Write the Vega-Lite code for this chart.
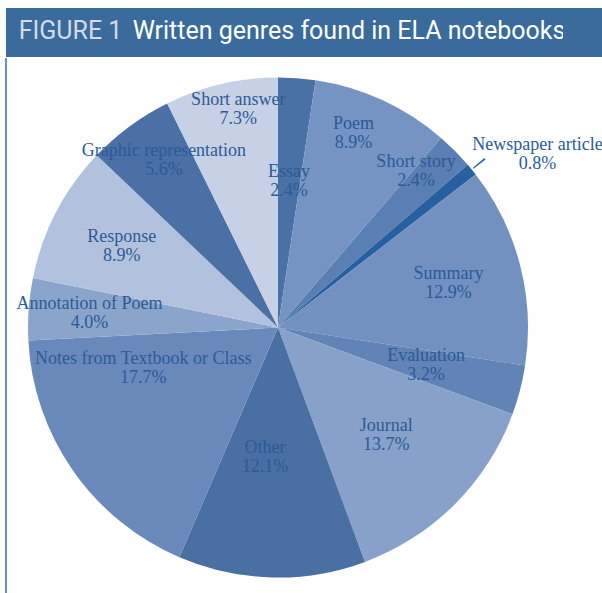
{
  "$schema": "https://vega.github.io/schema/vega-lite/v6.json",
  "padding": {"left": 5, "top": 8, "right": 0, "bottom": 0},
  "background": "white",
  "spacing": 0,
  "config": {"view": {"stroke": null}},
  "vconcat": [
    {
      "hconcat": [
        {
          "width": 129,
          "height": 49,
          "view": {"fill": "#3b6a9c", "stroke": null},
          "data": {"values": [{}]},
          "mark": {"type": "text", "text": "FIGURE 1", "font": "Roboto", "fontSize": 25, "fill": "#d3dbe8", "baseline": "middle", "align": "center", "dy": -2}
        },
        {
          "width": 428,
          "height": 49,
          "view": {"fill": "#3b6a9c", "stroke": null},
          "data": {"values": [{}]},
          "mark": {"type": "text", "text": "Written genres found in ELA notebooks", "font": "Roboto", "fontSize": 25, "fill": "#ffffff", "baseline": "middle", "align": "center", "dy": -2}
        },
        {
          "width": 40,
          "height": 49,
          "view": {"fill": "#3b6a9c", "stroke": null},
          "data": {"values": [{}]},
          "mark": {"type": "text", "text": ""}
        }
      ],
      "spacing": 0,
      "bounds": "flush"
    },
    {
      "width": 544,
      "height": 539,
      "view": {"stroke": "#6d90c0", "strokeWidth": 2, "strokeDash": [0, 1627, 539, 20]},
      "data": {
        "values": [
          {"genre": "Essay", "pct": 2.4, "order": 1},
          {"genre": "Poem", "pct": 8.9, "order": 2},
          {"genre": "Short story", "pct": 2.4, "order": 3},
          {"genre": "Newspaper article", "pct": 0.8, "order": 4},
          {"genre": "Summary", "pct": 12.9, "order": 5},
          {"genre": "Evaluation", "pct": 3.2, "order": 6},
          {"genre": "Journal", "pct": 13.7, "order": 7},
          {"genre": "Other", "pct": 12.1, "order": 8},
          {"genre": "Notes from Textbook or Class", "pct": 17.7, "order": 9},
          {"genre": "Annotation of Poem", "pct": 4.0, "order": 10},
          {"genre": "Response", "pct": 8.9, "order": 11},
          {"genre": "Graphic representation", "pct": 5.6, "order": 12},
          {"genre": "Short answer", "pct": 7.3, "order": 13}
        ]
      },
      "transform": [
        {"calculate": "datum.genre + '\\n' + format(datum.pct, '.1f') + '%'", "as": "label"},
        {"stack": "pct", "groupby": [], "sort": [{"field": "order", "order": "ascending"}], "as": ["cum0", "cum1"]}
      ],
      "encoding": {
        "theta": {"field": "pct", "type": "quantitative", "stack": true},
        "order": {"field": "order", "type": "quantitative"}
      },
      "layer": [
        {
          "mark": {"type": "arc", "radius": 250},
          "encoding": {
            "color": {
              "field": "genre",
              "type": "nominal",
              "scale": {
                "domain": ["Essay", "Poem", "Short story", "Newspaper article", "Summary", "Evaluation", "Journal", "Other", "Notes from Textbook or Class", "Annotation of Poem", "Response", "Graphic representation", "Short answer"],
                "range": ["#4a71a6", "#7694c3", "#5a7fb2", "#2660a0", "#7391c0", "#6183b5", "#88a1ca", "#496fa3", "#6a89bb", "#8ba4cb", "#b2c2de", "#4a70a5", "#c6d1e6"]
              },
              "legend": null
            }
          }
        },
        {
          "mark": {"type": "arc", "radius": 267, "radius2": 252, "padAngle": 0.031, "fill": "#3d6aa0"},
          "encoding": {
            "opacity": {"condition": {"test": "datum.genre === 'Newspaper article'", "value": 1}, "value": 0}
          }
        },
        {
          "mark": {"type": "text", "radius": 146, "dy": -9.5, "font": "Liberation Serif", "fontSize": 18, "lineBreak": "\n", "lineHeight": 19, "fill": "#2c5b95", "baseline": "middle"},
          "encoding": {
            "text": {"condition": {"test": "datum.genre === 'Essay'", "field": "label"}, "value": ""}
          }
        },
        {
          "mark": {"type": "text", "radius": 153, "dy": -9.5, "font": "Liberation Serif", "fontSize": 18, "lineBreak": "\n", "lineHeight": 19, "fill": "#2c5b95", "baseline": "middle"},
          "encoding": {
            "text": {"condition": {"test": "indexof(['Evaluation','Journal'], datum.genre) >= 0", "field": "label"}, "value": ""}
          }
        },
        {
          "mark": {"type": "text", "radius": 131, "thetaOffset": 0.075, "dy": -9.5, "font": "Liberation Serif", "fontSize": 18, "lineBreak": "\n", "lineHeight": 19, "fill": "#2c5b95", "baseline": "middle"},
          "encoding": {
            "text": {"condition": {"test": "datum.genre === 'Other'", "field": "label"}, "value": ""}
          }
        },
        {
          "mark": {"type": "text", "radius": 141, "thetaOffset": 0.31, "dy": -9.5, "font": "Liberation Serif", "fontSize": 18, "lineBreak": "\n", "lineHeight": 19, "fill": "#2c5b95", "baseline": "middle"},
          "encoding": {
            "text": {"condition": {"test": "datum.genre === 'Notes from Textbook or Class'", "field": "label"}, "value": ""}
          }
        },
        {
          "mark": {"type": "text", "radius": 176, "dy": -9.5, "font": "Liberation Serif", "fontSize": 18, "lineBreak": "\n", "lineHeight": 19, "fill": "#2c5b95", "baseline": "middle"},
          "encoding": {
            "text": {"condition": {"test": "indexof(['Summary','Response'], datum.genre) >= 0", "field": "label"}, "value": ""}
          }
        },
        {
          "mark": {"type": "text", "radius": 189, "dy": -9.5, "font": "Liberation Serif", "fontSize": 18, "lineBreak": "\n", "lineHeight": 19, "fill": "#2c5b95", "baseline": "middle"},
          "encoding": {
            "text": {"condition": {"test": "datum.genre === 'Annotation of Poem'", "field": "label"}, "value": ""}
          }
        },
        {
          "mark": {"type": "text", "radius": 208, "thetaOffset": -0.06, "dy": -9.5, "font": "Liberation Serif", "fontSize": 18, "lineBreak": "\n", "lineHeight": 19, "fill": "#2c5b95", "baseline": "middle"},
          "encoding": {
            "text": {"condition": {"test": "indexof(['Poem','Short story'], datum.genre) >= 0", "field": "label"}, "value": ""}
          }
        },
        {
          "mark": {"type": "text", "radius": 202, "thetaOffset": 0.035, "dy": -9.5, "font": "Liberation Serif", "fontSize": 18, "lineBreak": "\n", "lineHeight": 19, "fill": "#2c5b95", "baseline": "middle"},
          "encoding": {
            "text": {"condition": {"test": "datum.genre === 'Graphic representation'", "field": "label"}, "value": ""}
          }
        },
        {
          "mark": {"type": "text", "radius": 222, "thetaOffset": 0.05, "dy": -9.5, "font": "Liberation Serif", "fontSize": 18, "lineBreak": "\n", "lineHeight": 19, "fill": "#2c5b95", "baseline": "middle"},
          "encoding": {
            "text": {"condition": {"test": "datum.genre === 'Short answer'", "field": "label"}, "value": ""}
          }
        },
        {
          "transform": [{"filter": "datum.genre === 'Newspaper article'"}],
          "mark": {"type": "text", "radius": 312, "thetaOffset": 0.07, "dy": -9.5, "font": "Liberation Serif", "fontSize": 18, "lineBreak": "\n", "lineHeight": 19, "fill": "#2c5b95", "baseline": "middle"},
          "encoding": {
            "theta": {"field": "cum1", "type": "quantitative", "stack": null},
            "text": {"field": "label"}
          }
        }
      ]
    }
  ]
}
